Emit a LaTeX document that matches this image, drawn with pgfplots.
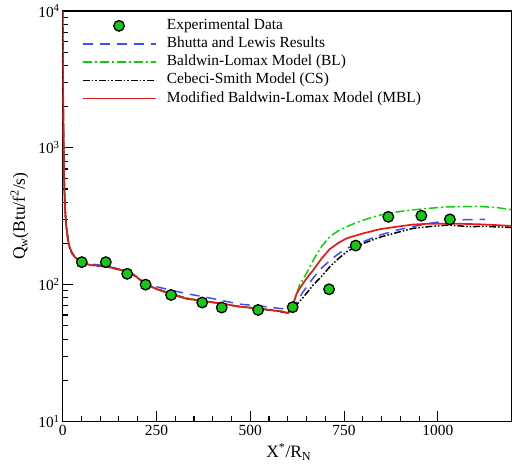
\documentclass[border=0pt]{standalone}
\usepackage{fontspec}
\setmainfont{Liberation Serif}
\usepackage{pgfplots}
\pgfplotsset{compat=1.18}
\definecolor{expgreen}{RGB}{20,200,20}
\definecolor{blgreen}{RGB}{10,210,10}
\definecolor{bhblue}{RGB}{60,80,245}
\definecolor{mblred}{RGB}{230,25,25}
\begin{document}
\begin{tikzpicture}
\begin{axis}[
  at={(0,0)}, anchor=south west,
  scale only axis, width=449bp, height=410.7bp,
  xmin=0, xmax=1196, ymin=10, ymax=10000, ymode=log,
  axis line style={line width=1.5bp},
  every tick/.style={black, line width=1.1bp},
  major tick length=10bp, minor tick length=5bp,
  xtick={0,250,500,750,1000}, xticklabels={0,250,500,750,1000},
  minor x tick num=4,
  ytick={10,100,1000,10000},
  yticklabels={10\textsuperscript{1},10\textsuperscript{2},10\textsuperscript{3},10\textsuperscript{4}},
  xtick pos=left, ytick pos=left,
  tick label style={font=\fontsize{15.5}{18}\selectfont},
  yticklabel style={xshift=0.5bp},
  xlabel={X\textsuperscript{*}/R\textsubscript{N}},
  ylabel={Q\textsubscript{w}(Btu/f\textsuperscript{2}/s)},
  label style={font=\fontsize{17.5}{20}\selectfont},
  xlabel style={at={(axis description cs:0.504,-0.089)}, anchor=base},
  ylabel style={at={(axis description cs:-0.084,0.5)}, anchor=base, rotate=0},
  legend style={draw=none, fill=none, at={(axis description cs:0.042,0.985)}, anchor=north west,
    inner sep=0pt, font=\fontsize{15.5}{18}\selectfont, row sep=1.2bp,
    nodes={inner sep=1.5bp, text height=10.5bp, text depth=3.5bp},
    /tikz/every odd column/.append style={column sep=9bp}},
  legend cell align=left,
  legend image code/.code={\draw[mark repeat=2,mark phase=2,#1] plot coordinates {(0bp,0bp)(36.5bp,0bp)(73bp,0bp)};},
]
\addlegendimage{only marks, mark=*, mark size=5.3bp, mark options={fill=expgreen, draw=black, line width=1.3bp}}
\addlegendentry{Experimental Data}

% Bhutta and Lewis
\addplot[bhblue, line width=1.5bp, dash pattern=on 10bp off 7bp] coordinates {
(0,6000)(1.5,2000)(3,900)(5,500)(8,320)(12,240)(18,190)(25,168)(35,155)(50,146)(80,141)(110,138)(150,130)(190,116)(221,104)(241,98)(289,91)(339,85)(372,82)(420,77)(472,72)(521,70)(579,67)(605,66)(614,68)(640,88)(668,112)(690,132)(712,150)(735,168)(757,184)(801,206)(845,230)(890,250)(934,266)(980,281)(1023,292)(1070,298)(1125,300)};
\addlegendentry{Bhutta and Lewis Results}

% Baldwin-Lomax
\addplot[blgreen, line width=1.5bp, dash pattern=on 9bp off 3bp on 2bp off 3bp] coordinates {
(0,10000)(0.8,4000)(1.5,2000)(2.5,1100)(3.5,700)(5,450)(7,330)(10,260)(14,215)(18,190)(24,172)(32,160)(42,150)(55,143)(75,139)(100,137)(130,133)(160,127)(190,118)(221,102)(250,94)(289,86)(330,80)(372,76)(420,73)(472,69)(521,67)(579,64)(601,63)(612,70)(622,84)(632,100)(650,121)(668,151)(690,190)(712,224)(735,248)(757,265)(780,282)(801,296)(845,322)(890,340)(934,352)(980,362)(1023,370)(1070,372)(1112,373)(1160,365)(1200,352)};
\addlegendentry{Baldwin-Lomax Model (BL)}

% Cebeci-Smith
\addplot[black, line width=1.5bp, dash pattern=on 7bp off 2bp on 1.5bp off 2bp on 1.5bp off 2bp] coordinates {
(0,10000)(0.8,4000)(1.5,2000)(2.5,1100)(3.5,700)(5,450)(7,330)(10,260)(14,215)(18,190)(24,172)(32,160)(42,150)(55,143)(75,139)(100,137)(130,133)(160,127)(190,118)(221,101)(250,93)(289,85)(330,79)(372,76)(420,73)(472,69)(521,67)(579,63.5)(601,62)(614,67)(640,80)(668,99.6)(690,115)(712,135)(735,155)(757,174)(780,188)(801,200)(845,222)(890,240)(934,258)(980,266)(1023,272)(1050,270)(1085,265)(1120,267)(1160,264)(1200,262)};
\addlegendentry{Cebeci-Smith Model (CS)}

% Modified Baldwin-Lomax
\addplot[mblred, line width=1.7bp] coordinates {
(0,10000)(0.8,4000)(1.5,2000)(2.5,1100)(3.5,700)(5,450)(7,330)(10,260)(14,215)(18,190)(24,172)(32,160)(42,150)(55,143)(75,139)(100,137)(130,133)(160,127)(190,118)(221,100)(250,93)(289,85)(330,79)(372,76)(420,73)(472,69)(521,67)(579,64)(601,62)(614,71)(623,85)(632,94)(650,111)(668,128)(690,155)(712,182)(735,202)(757,218)(780,228)(801,237)(845,254)(890,265)(934,275)(980,279)(1023,279)(1070,278)(1112,276)(1160,272)(1200,268)};
\addlegendentry{Modified Baldwin-Lomax Model (MBL)}

% Experimental data (drawn on top)
\addplot[forget plot, only marks, mark=*, mark size=5.3bp, mark options={fill=expgreen, draw=black, line width=1.3bp}] coordinates {
(51,146)(115,146)(172,120)(221,100)(289,84)(372,74)(424,68)(521,65.3)(613,68.4)(710,92.5)(781,193)(868,313)(956,319)(1032,300)};
\end{axis}
\pgfresetboundingbox
\path[use as bounding box] (-62.7bp,-43.3bp) rectangle (449.6bp,421.7bp);
\end{tikzpicture}
\end{document}
